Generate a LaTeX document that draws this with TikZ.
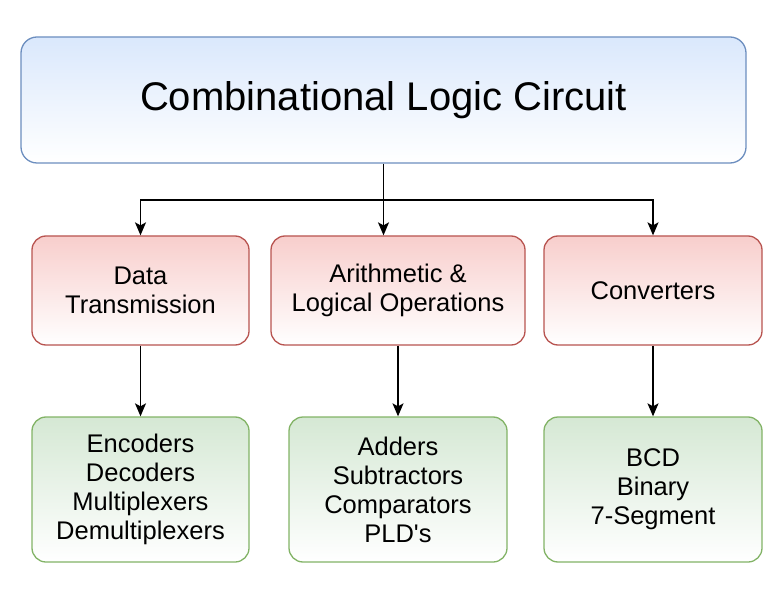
\documentclass[tikz,border=0pt]{standalone}
\usepackage{fontspec}
\setmainfont{Liberation Sans}
\usetikzlibrary{arrows.meta}

\definecolor{blueFill}{HTML}{DAE8FC}
\definecolor{blueLine}{HTML}{6C8EBF}
\definecolor{redFill}{HTML}{F8CECC}
\definecolor{redLine}{HTML}{B85450}
\definecolor{greenFill}{HTML}{D5E8D4}
\definecolor{greenLine}{HTML}{82B366}

\begin{document}
\begin{tikzpicture}[x=1pt,y=1pt,
  box/.style={rounded corners=14pt, line width=1.3pt, inner sep=0pt, align=center,
    font=\fontsize{25.5}{29}\selectfont},
  topbox/.style={box, draw=blueLine, top color=blueFill, bottom color=white,
    rounded corners=16pt, font=\fontsize{40}{46}\selectfont},
  groupbox/.style={box, draw=redLine, top color=redFill, bottom color=white},
  itembox/.style={box, draw=greenLine, top color=greenFill, bottom color=white},
  arrow/.style={line width=1.4pt, -{Stealth[length=13pt,width=11pt,inset=3pt]}}]
\useasboundingbox (0,0) rectangle (783,600);

 \node[topbox, minimum width=725, minimum height=126] at (383.5, 500) (clc) {Combinational Logic Circuit};

 \node[groupbox, minimum width=217, minimum height=109] at (140.5, 309.5) (dt) {Data\\Transmission};
 \node[groupbox, minimum width=254, minimum height=109] at (398, 309.5) (alu) {Arithmetic \&\\Logical Operations};
 \node[groupbox, minimum width=218, minimum height=109] at (653, 309.5) (conv) {Converters};

 \node[itembox, minimum width=217, minimum height=145] at (140.5, 110.5) (enc) {Encoders\\Decoders\\Multiplexers\\Demultiplexers};
 \node[itembox, minimum width=218, minimum height=145] at (398, 110.5) (add) {Adders\\Subtractors\\Comparators\\PLD\textquotesingle s};
 \node[itembox, minimum width=218, minimum height=145] at (653, 110.5) (bcd) {BCD\\Binary\\7-Segment};

 \coordinate (split) at (383.5, 400);
 \draw[line width=1.4pt] (clc.south) -- (split);
 \draw[arrow] (split) -| (dt.north);
 \draw[arrow] (split) -| (conv.north);
 \draw[arrow] (split) -- (split |- alu.north);

 \draw[arrow] (dt) -- (enc);
 \draw[arrow] (alu) -- (add);
 \draw[arrow] (conv) -- (bcd);
\end{tikzpicture}
\end{document}
